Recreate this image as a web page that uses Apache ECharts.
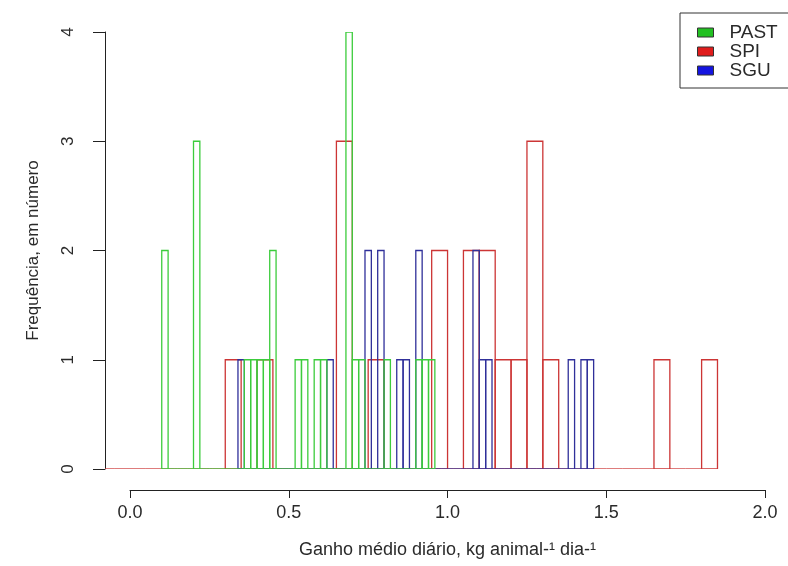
<!DOCTYPE html>
<html>
<head>
<meta charset="utf-8">
<script src="https://cdn.jsdelivr.net/npm/echarts@6/dist/echarts.min.js"></script>
<style>
  html, body { margin: 0; padding: 0; background: #ffffff; }
  #chart { width: 788px; height: 566px; }
</style>
</head>
<body>
<div id="chart"></div>
<script>
// Histogram bins: first break, bin width, and counts per bin
const pastStart = 0.10;
const pastWidth = 0.02;
const pastCounts = [2, 0, 0, 0, 0, 3, 0, 0, 0, 0, 0, 0, 0, 1, 1, 1, 1, 2, 0, 0,
                    0, 1, 1, 0, 1, 1, 0, 0, 0, 4, 1, 1, 0, 0, 0, 1, 0, 0, 0, 0,
                    1, 1, 1];

const spiStart = -0.10;
const spiWidth = 0.05;
const spiCounts = [0, 0, 0, 0, 0, 0, 0, 0, 1, 0, 1, 0, 0, 0, 0, 3, 0, 1, 0, 0,
                   0, 2, 0, 2, 2, 1, 1, 3, 1, 0, 0, 0, 0, 0, 0, 1, 0, 0, 1];

const sguStart = 0.34;
const sguWidth = 0.02;
const sguCounts = [1, 0, 0, 0, 0, 0, 0, 0, 0, 0, 0, 0, 0, 0, 1, 0, 0, 0, 0, 0,
                   2, 0, 2, 0, 0, 1, 1, 0, 2, 0, 0, 0, 0, 0, 0, 0, 0, 2, 1, 1,
                   0, 0, 0, 0, 0, 0, 0, 0, 0, 0, 0, 0, 1, 0, 1, 1];

const seriesNames = ['PAST', 'SPI', 'SGU'];
const xTicks = [0, 0.5, 1, 1.5, 2];
const yTicks = [0, 1, 2, 3, 4];

const FONT = '"Liberation Sans", Arial, sans-serif';
const TEXT = '#2a2a2a';

function toBins(start, width, counts) {
  return counts.map(function (c, i) {
    const a = Math.round((start + i * width) * 1000) / 1000;
    const b = Math.round((start + (i + 1) * width) * 1000) / 1000;
    return [a, b, c];
  });
}

// Each bin is an outlined rectangle; empty bins leave only the baseline segment
function renderBin(params, api) {
  const x0 = api.value(0), x1 = api.value(1), n = api.value(2);
  const p0 = api.coord([x0, 0]);
  const p1 = api.coord([x1, n]);
  const color = api.visual('color');
  if (n === 0) {
    return {
      type: 'line',
      shape: { x1: p0[0], y1: p0[1], x2: p1[0], y2: p0[1] },
      style: { stroke: color, lineWidth: 1.3 }
    };
  }
  return {
    type: 'rect',
    shape: { x: p0[0], y: p1[1], width: p1[0] - p0[0], height: p0[1] - p1[1] },
    style: { fill: 'none', stroke: color, lineWidth: 1.3 }
  };
}

const lineColors = { PAST: '#3ccc3c', SPI: '#cc3535', SGU: '#30309a' };
const swatchColors = { PAST: '#22c022', SPI: '#e01c1c', SGU: '#1414e0' };

function histSeries(name, bins) {
  return {
    name: name,
    type: 'custom',
    xAxisIndex: 0,
    yAxisIndex: 0,
    clip: true,
    renderItem: renderBin,
    itemStyle: { color: lineColors[name] },
    encode: { x: [0, 1], y: 2 },
    data: bins,
    silent: true
  };
}

const chart = echarts.init(document.getElementById('chart'), null, { renderer: 'canvas' });

chart.setOption({
  animation: false,
  backgroundColor: '#ffffff',
  textStyle: { fontFamily: FONT },
  grid: [
    { left: 105, right: 7, top: 32, bottom: 97 },
    { left: 130, right: 23, top: 470, bottom: 76 }
  ],
  xAxis: [
    {
      gridIndex: 0, type: 'value', min: -0.0787, max: 2.05, show: false
    },
    {
      gridIndex: 1, type: 'value', min: xTicks[0], max: xTicks[xTicks.length - 1], interval: 0.5,
      position: 'bottom',
      axisLine: { show: true, onZero: false, lineStyle: { color: '#222', width: 1 } },
      axisTick: { show: true, inside: false, length: 8, lineStyle: { color: '#222', width: 1 } },
      splitLine: { show: false },
      axisLabel: {
        margin: 14, fontSize: 18, color: TEXT, fontFamily: FONT,
        formatter: function (v) { return v.toFixed(1); }
      },
      name: 'Ganho médio diário, kg animal-¹ dia-¹',
      nameLocation: 'middle',
      nameGap: 51,
      nameTextStyle: { fontSize: 18, color: TEXT, fontFamily: FONT }
    }
  ],
  yAxis: [
    {
      gridIndex: 0, type: 'value', min: yTicks[0], max: yTicks[yTicks.length - 1], interval: 1,
      axisLine: { show: true, onZero: false, lineStyle: { color: '#222', width: 1 } },
      axisTick: { show: true, inside: false, length: 12, lineStyle: { color: '#222', width: 1 } },
      splitLine: { show: false },
      axisLabel: { rotate: 90, margin: 28, fontSize: 17, color: TEXT, fontFamily: FONT },
      name: 'Frequência, em número',
      nameLocation: 'middle',
      nameRotate: 90,
      nameGap: 63,
      nameTextStyle: { fontSize: 17, color: TEXT, fontFamily: FONT }
    },
    {
      gridIndex: 1, type: 'value', min: 0, max: 1, show: false
    }
  ],
  legend: {
    orient: 'vertical',
    left: 680,
    top: 13,
    padding: [10, 24, 8, 17],
    itemGap: 0,
    itemWidth: 16,
    itemHeight: 9,
    borderColor: '#333',
    borderWidth: 1,
    backgroundColor: '#ffffff',
    textStyle: { fontSize: 19, color: TEXT, fontFamily: FONT, padding: [0, 0, 0, 11] },
    selectedMode: false,
    data: seriesNames.map(function (n) {
      return {
        name: n,
        icon: 'rect',
        itemStyle: { color: swatchColors[n], borderColor: '#333', borderWidth: 1 }
      };
    })
  },
  series: [
    histSeries('SPI', toBins(spiStart, spiWidth, spiCounts)),
    histSeries('SGU', toBins(sguStart, sguWidth, sguCounts)),
    histSeries('PAST', toBins(pastStart, pastWidth, pastCounts))
  ]
});
</script>
</body>
</html>
